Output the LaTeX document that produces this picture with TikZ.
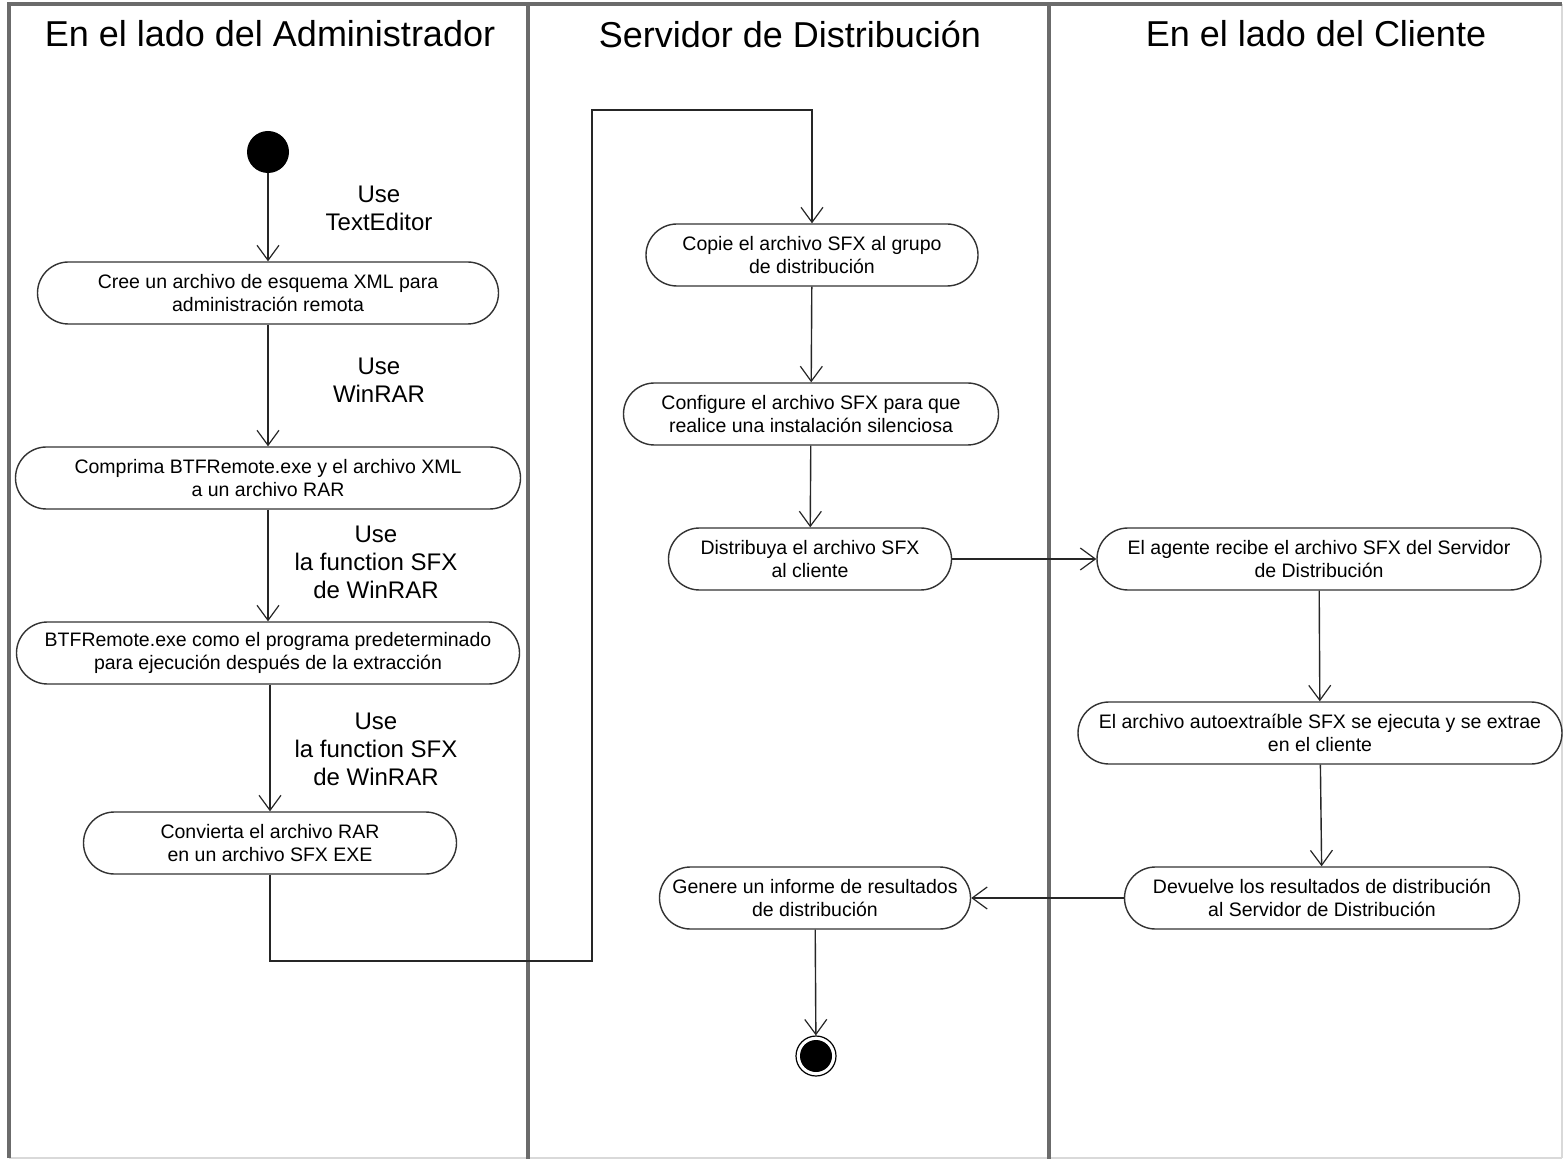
\documentclass[tikz,border=0pt]{standalone}
\usepackage{fontspec}
\setmainfont{Liberation Sans}
\usetikzlibrary{arrows.meta}
\begin{document}
\begin{tikzpicture}[x=0.5pt,y=-0.5pt,
  act/.style={draw=black!80, line width=0.7pt, rectangle, rounded corners=15.5pt,
    minimum height=31pt, align=center, inner sep=0pt,
    font=\fontsize{9.75pt}{11.5pt}\selectfont},
  lane/.style={draw=black!58, line width=1.6pt},
  faint/.style={draw=black!15, line width=1pt},
  hdr/.style={font=\fontsize{18pt}{21pt}\selectfont, inner sep=0pt},
  lbl/.style={font=\fontsize{12pt}{14pt}\selectfont, align=center, inner sep=0pt},
  flow/.style={draw=black!85, line width=0.7pt, -{Straight Barb[length=7.5pt,width=11pt,line width=0.6pt]}},
  seg/.style={draw=black!85, line width=0.7pt}
]
\useasboundingbox (0,0) rectangle (1567,1159);
\fill[white] (0,0) rectangle (1567,1159);
% frame and lanes
\coordinate (tl) at (9,4);
\coordinate (tr) at (1562,4);
\coordinate (bl) at (9,1158);
\coordinate (br) at (1562,1158);
\coordinate (d1t) at (528,4);
\coordinate (d1b) at (528,1159);
\coordinate (d2t) at (1049,4);
\coordinate (d2b) at (1049,1159);
\draw[faint] (tr) -- (br);
\draw[faint] (bl) -- (br);
\draw[lane] (bl) -- (tl) -- (tr);
\draw[lane] (d1t) -- (d1b);
\draw[lane] (d2t) -- (d2b);
% headers
\node[hdr] (h1) at (270,34) {En el lado del Administrador};
\node[hdr] (h2) at (790,34) {Servidor de Distribución};
\node[hdr] (h3) at (1316,34) {En el lado del Cliente};
% admin lane
\node[circle, fill=black, minimum size=21pt, inner sep=0pt] (start) at (268,152) {};
\node[act, minimum width=230.5pt] (a1) at (268,293) {Cree un archivo de esquema XML para\\administración remota};
\node[act, minimum width=252.5pt] (a2) at (268,478) {Comprima BTFRemote.exe y el archivo XML\\a un archivo RAR};
\node[act, minimum width=251.5pt] (a3) at (268,653) {BTFRemote.exe como el programa predeterminado\\para ejecución después de la extracción};
\node[act, minimum width=186.5pt] (a4) at (270,843) {Convierta el archivo RAR\\en un archivo SFX EXE};
\node[lbl] (l1) at (379,208) {Use\\TextEditor};
\node[lbl] (l2) at (379,380) {Use\\WinRAR};
\node[lbl] (l3) at (376,562) {Use\\la function SFX\\de WinRAR};
\node[lbl] (l4) at (376,749) {Use\\la function SFX\\de WinRAR};
% server lane
\node[act, minimum width=166pt] (b1) at (812,255) {Copie el archivo SFX al grupo\\de distribución};
\node[act, minimum width=187.5pt] (b2) at (811,414) {Configure el archivo SFX para que\\realice una instalación silenciosa};
\node[act, minimum width=141.5pt] (b3) at (810,559) {Distribuya el archivo SFX\\al cliente};
\node[act, minimum width=155.5pt] (b4) at (815,898) {Genere un informe de resultados\\de distribución};
\node[circle, draw=black, line width=0.6pt, minimum size=20pt, inner sep=0pt] (end) at (816,1056) {};
\fill[black] (end.center) circle (8pt);
% client lane
\node[act, minimum width=222pt] (c1) at (1319,559) {El agente recibe el archivo SFX del Servidor\\de Distribución};
\node[act, minimum width=242pt] (c2) at (1320,733) {El archivo autoextraíble SFX se ejecuta y se extrae\\en el cliente};
\node[act, minimum width=197.5pt] (c3) at (1322,898) {Devuelve los resultados de distribución\\al Servidor de Distribución};
% connectors
\coordinate (k1) at (592,961);
\coordinate (k2) at (592,110);
\draw[flow] (start) -- (a1);
\draw[flow] (a1) -- (a2);
\draw[flow] (a2) -- (a3);
\draw[flow] (a3.south -| a4.north) -- (a4);
\draw[flow] (a4.south) |- (k1) -- (k2) -| (b1.north);
\draw[flow] (b1) -- (b2);
\draw[flow] (b2) -- (b3);
\draw[flow] (b3) -- (c1);
\draw[flow] (c1) -- (c2);
\draw[flow] (c2) -- (c3);
\draw[flow] (c3) -- (b4);
\draw[flow] (b4) -- (end);
\end{tikzpicture}
\end{document}
